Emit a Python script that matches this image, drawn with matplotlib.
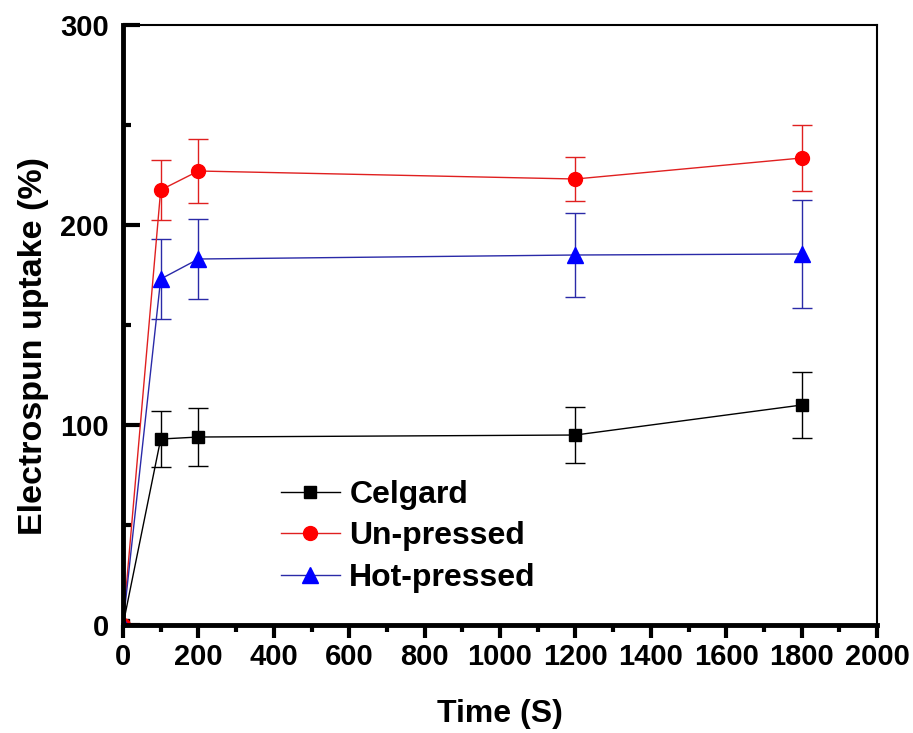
import matplotlib
matplotlib.use('Agg')
import matplotlib.pyplot as plt
from matplotlib.ticker import MultipleLocator
from matplotlib.lines import Line2D

plt.rcParams['font.family'] = ['Liberation Sans', 'DejaVu Sans']
plt.rcParams['font.weight'] = 'bold'

# data
time = [0, 100, 200, 1200, 1800]
celgard = [0, 93, 94, 95, 110]
celgard_err = [0, 14, 14.5, 14, 16.5]
unpressed = [0, 217.5, 227, 223, 233.5]
unpressed_err = [0, 15, 16, 11, 16.5]
hotpressed = [0, 173, 183, 185, 185.5]
hotpressed_err = [0, 20, 20, 21, 27]

fig = plt.figure(figsize=(9.13, 7.33), dpi=100)
ax = fig.add_axes([0.1347, 0.1473, 0.826, 0.8186])

ax.errorbar(time, celgard, yerr=celgard_err, color='black', marker='s', ms=9,
            lw=1, elinewidth=1, capsize=7, capthick=1)
ax.errorbar(time, unpressed, yerr=unpressed_err, color='#e02020', mfc='red', mec='red',
            marker='o', ms=10, lw=1, elinewidth=1, capsize=7, capthick=1)
ax.errorbar(time, hotpressed, yerr=hotpressed_err, color='#2a2aa8', mfc='blue', mec='blue',
            marker='^', ms=12, lw=1, elinewidth=1, capsize=7, capthick=1)

ax.set_xlim(0, 2000)
ax.set_ylim(0, 300)
ax.xaxis.set_major_locator(MultipleLocator(200))
ax.xaxis.set_minor_locator(MultipleLocator(100))
ax.yaxis.set_major_locator(MultipleLocator(100))
ax.yaxis.set_minor_locator(MultipleLocator(50))

for s in ['left', 'bottom']:
    ax.spines[s].set_linewidth(3.5)
for s in ['top', 'right']:
    ax.spines[s].set_linewidth(1.5)

ax.tick_params(axis='x', which='major', direction='out', length=9, width=3, labelsize=21, pad=4)
ax.tick_params(axis='x', which='minor', direction='out', length=5, width=3)
ax.tick_params(axis='y', which='major', direction='in', length=12, width=3, labelsize=21, pad=10)
ax.tick_params(axis='y', which='minor', direction='in', length=6, width=3)
ax.tick_params(top=False, right=False, which='both')

ax.set_xlabel('Time (S)', fontsize=23, fontweight='bold', labelpad=20)
ax.set_ylabel('Electrospun uptake (%)', fontsize=24.5, fontweight='bold')
ax.yaxis.set_label_coords(-0.098, 0.465)

handles = [
    Line2D([], [], color='black', marker='s', ms=9, lw=1),
    Line2D([], [], color='#e02020', mfc='red', mec='red', marker='o', ms=10, lw=1),
    Line2D([], [], color='#2a2aa8', mfc='blue', mec='blue', marker='^', ms=12, lw=1),
]
labels = ['Celgard', 'Un-pressed', 'Hot-pressed']
leg = ax.legend(handles, labels, loc='upper left', bbox_to_anchor=(0.171, 0.29), frameon=False,
                fontsize=23, handlelength=1.85, labelspacing=0.36, handletextpad=0.3)
for t in leg.get_texts():
    t.set_fontweight('bold')

fig.savefig('out.png', dpi=100)
